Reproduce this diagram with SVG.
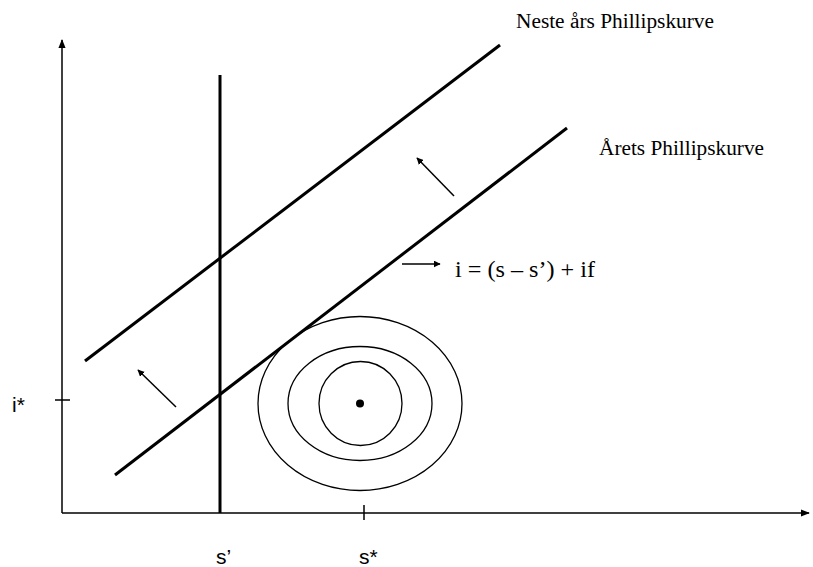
<svg xmlns="http://www.w3.org/2000/svg" width="813" height="567" viewBox="0 0 813 567">
<style>
.axis{stroke:#000;stroke-width:1.5;fill:none}
.thick{stroke:#000;stroke-width:3;fill:none}
.arr{stroke:#000;stroke-width:1.5;fill:none;marker-end:url(#ah)}
.ell{stroke:#000;stroke-width:1.3;fill:none}
.serif{font-family:"Liberation Serif","Times New Roman",serif;fill:#000}
.sans{font-family:"Liberation Sans",Arial,sans-serif;fill:#000}
</style>
<defs>
<marker id="ah" viewBox="0 0 10 10" refX="9" refY="5" markerWidth="7" markerHeight="7" markerUnits="userSpaceOnUse" orient="auto"><path d="M0,0 L10,5 L0,10 z" fill="#000"/></marker>
<marker id="axh" viewBox="0 0 10 10" refX="9" refY="5" markerWidth="9" markerHeight="9" markerUnits="userSpaceOnUse" orient="auto"><path d="M0,1 L10,5 L0,9 z" fill="#000"/></marker>
</defs>
<g id="axes">
<line class="axis" x1="62" y1="513" x2="62" y2="40" marker-end="url(#axh)"/>
<line class="axis" x1="62" y1="513" x2="809" y2="513" marker-end="url(#axh)"/>
<line class="axis" x1="55" y1="400" x2="70" y2="400"/>
<line class="axis" x1="364" y1="505" x2="364" y2="520"/>
<text class="sans" x="12" y="412" font-size="21">i*</text>
<text class="sans" x="216" y="564" font-size="21">s’</text>
<text class="sans" x="359" y="564" font-size="21">s*</text>
</g>
<g id="vertical-s-prime">
<line class="thick" x1="220" y1="75" x2="220" y2="513"/>
</g>
<g id="neste-phillips">
<line class="thick" x1="85" y1="361" x2="500" y2="45"/>
<text class="serif" x="516" y="28" font-size="20.5" textLength="198" lengthAdjust="spacingAndGlyphs">Neste års Phillipskurve</text>
</g>
<g id="arets-phillips">
<line class="thick" x1="115" y1="475" x2="567" y2="128"/>
<text class="serif" x="599" y="154.5" font-size="20.5" textLength="165" lengthAdjust="spacingAndGlyphs">Årets Phillipskurve</text>
</g>
<g id="ellipses">
<ellipse class="ell" cx="360" cy="403.5" rx="102" ry="87"/>
<ellipse class="ell" cx="360" cy="403.5" rx="72" ry="57"/>
<ellipse class="ell" cx="360.5" cy="403.5" rx="41.5" ry="42"/>
<circle cx="360" cy="403.5" r="4" fill="#000"/>
</g>
<g id="connectors">
<line class="arr" x1="176" y1="407" x2="138" y2="370"/>
<line class="arr" x1="454" y1="196" x2="417" y2="158"/>
<line class="arr" x1="402" y1="264" x2="440" y2="264"/>
</g>
<g id="equation">
<text class="serif" x="455" y="277" font-size="23" textLength="140" lengthAdjust="spacingAndGlyphs">i = (s – s’) + if</text>
</g>
</svg>
